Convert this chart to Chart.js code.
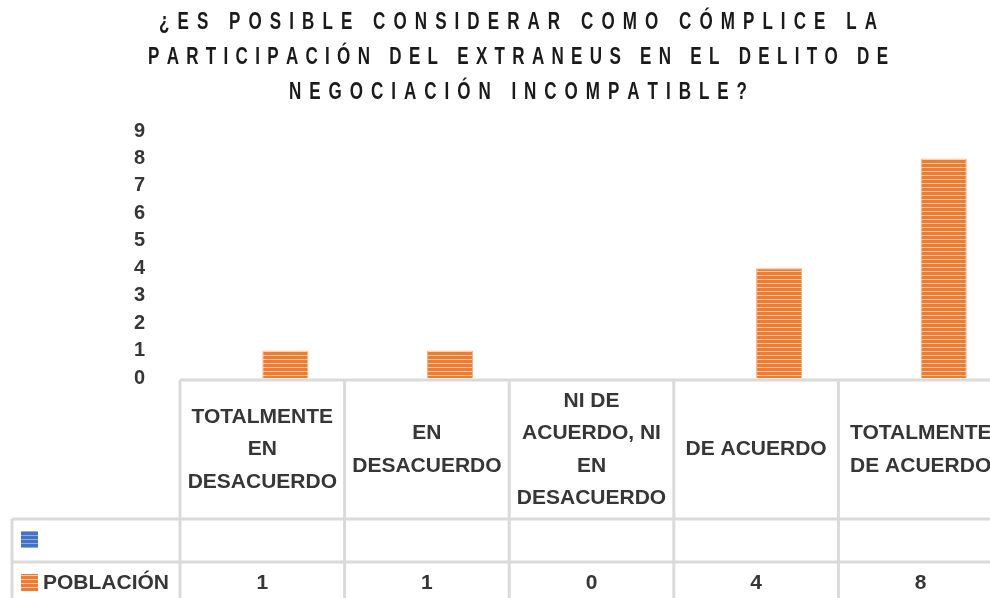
<!DOCTYPE html>
<html lang="es">
<head>
<meta charset="utf-8">
<title>¿Es posible considerar como cómplice la participación del extraneus?</title>
<script src="https://cdn.jsdelivr.net/npm/chart.js@4.4.1/dist/chart.umd.min.js"></script>
<style>
  html, body { margin: 0; padding: 0; background: #fff; overflow: hidden; }
  #wrap { width: 990px; height: 598px; overflow: hidden; }
  #wrap canvas { display: block; }
</style>
</head>
<body>
<div id="wrap"><canvas id="grafico" width="1004" height="598"></canvas></div>
<script>
// datos del gráfico
const titulo = [
  '¿ES POSIBLE CONSIDERAR COMO CÓMPLICE LA',
  'PARTICIPACIÓN DEL EXTRANEUS EN EL DELITO DE',
  'NEGOCIACIÓN INCOMPATIBLE?'
]
const categorias = [
  ['TOTALMENTE', 'EN', 'DESACUERDO'],
  ['EN', 'DESACUERDO'],
  ['NI DE', 'ACUERDO, NI', 'EN', 'DESACUERDO'],
  ['DE ACUERDO'],
  ['TOTALMENTE', 'DE ACUERDO']
]
const serieVacia = [null, null, null, null, null]
const poblacion = [1, 1, 0, 4, 8]
const nombreSerie = 'POBLACIÓN'
const yMin = 0
const yMax = 9
const yPaso = 1

const texto = '#363636'
const fuente = '"Liberation Sans", Arial, sans-serif'

// relleno rayado como en la hoja de cálculo
function rayado(base, claro) {
  const c = document.createElement('canvas')
  c.width = 4
  c.height = 4
  const g = c.getContext('2d')
  g.fillStyle = base
  g.fillRect(0, 0, 4, 4)
  g.fillStyle = claro
  g.fillRect(0, 3, 4, 1)
  return g.createPattern(c, 'repeat')
}
const naranja = rayado('#ED7D31', '#F8CBAD')
const azul = rayado('#4472C4', '#8FAADC')

// título condensado y espaciado
const anchosTitulo = [718, 740, 458]
const tituloPlugin = {
  id: 'tituloEspaciado',
  afterDraw(chart) {
    const ctx = chart.ctx
    const escala = 0.74
    ctx.save()
    ctx.font = 'bold 23px ' + fuente
    ctx.fillStyle = '#1a1a1a'
    ctx.textAlign = 'left'
    ctx.textBaseline = 'middle'
    titulo.forEach((t, i) => {
      const letras = [...t]
      const base = letras.reduce((s, l) => s + ctx.measureText(l).width * escala, 0)
      const hueco = (anchosTitulo[i] - base) / (letras.length - 1)
      let px = 518 - anchosTitulo[i] / 2
      const py = 23 + i * 35
      letras.forEach(l => {
        ctx.save()
        ctx.translate(px, py)
        ctx.scale(escala, 1)
        ctx.fillText(l, 0, 0)
        ctx.restore()
        px += ctx.measureText(l).width * escala + hueco
      })
    })
    ctx.restore()
  }
}

// tabla de datos debajo del eje
const tablaDatos = {
  id: 'tablaDatos',
  afterDraw(chart) {
    const { ctx, chartArea } = chart
    const x = chart.scales.x
    const ancho = x.getPixelForValue(1) - x.getPixelForValue(0)
    const arriba = chartArea.bottom + 2
    const fila1 = arriba + 139
    const fila2 = fila1 + 43
    const fila3 = fila2 + 43
    const izq = 12
    const der = chart.width

    ctx.save()
    ctx.strokeStyle = '#DADADA'
    ctx.lineWidth = 3
    const linea = (x1, y1, x2, y2) => {
      ctx.beginPath()
      ctx.moveTo(x1, y1)
      ctx.lineTo(x2, y2)
      ctx.stroke()
    }
    linea(chartArea.left, arriba, der, arriba)
    linea(izq, fila1, der, fila1)
    linea(izq, fila2, der, fila2)
    linea(izq, fila1, izq, fila3)
    for (let i = 0; i < categorias.length; i++) {
      const bx = x.getPixelForValue(i) - ancho / 2
      linea(bx, arriba, bx, fila3)
    }

    ctx.fillStyle = texto
    ctx.font = 'bold 21px ' + fuente
    ctx.textAlign = 'center'
    ctx.textBaseline = 'middle'
    const cy = (arriba + fila1) / 2
    categorias.forEach((lineas, i) => {
      const cx = x.getPixelForValue(i)
      lineas.forEach((t, j) => {
        ctx.fillText(t, cx, cy + (j - (lineas.length - 1) / 2) * 32.5)
      })
    })

    // claves de leyenda
    ctx.fillStyle = azul
    ctx.fillRect(21, fila1 + 12, 17, 17)
    ctx.fillStyle = naranja
    ctx.fillRect(21, fila2 + 12, 17, 17)

    const vy = fila2 + 21
    ctx.fillStyle = texto
    ctx.textAlign = 'left'
    ctx.fillText(nombreSerie, 43, vy)
    ctx.textAlign = 'center'
    poblacion.forEach((v, i) => {
      ctx.fillText(String(v), x.getPixelForValue(i), vy)
    })
    ctx.restore()
  }
}

new Chart(document.getElementById('grafico'), {
  type: 'bar',
  data: {
    labels: categorias,
    datasets: [
      {
        label: '',
        data: serieVacia,
        backgroundColor: azul
      },
      {
        label: nombreSerie,
        data: poblacion,
        backgroundColor: naranja,
        borderColor: '#F4B183',
        borderWidth: 1
      }
    ]
  },
  options: {
    responsive: false,
    animation: false,
    categoryPercentage: 0.56,
    barPercentage: 1,
    layout: {
      padding: { top: 131, right: 1, bottom: 220, left: 0 }
    },
    plugins: {
      legend: { display: false },
      title: { display: false },
      tooltip: { enabled: false }
    },
    scales: {
      x: {
        display: false
      },
      y: {
        min: yMin,
        max: yMax,
        grid: { display: false },
        border: { display: false },
        ticks: {
          stepSize: yPaso,
          autoSkip: false,
          padding: 27,
          color: texto,
          font: { family: fuente, size: 20, weight: 'bold' }
        },
        afterFit(scale) {
          scale.width = 180
        }
      }
    }
  },
  plugins: [tituloPlugin, tablaDatos]
})
</script>
</body>
</html>
